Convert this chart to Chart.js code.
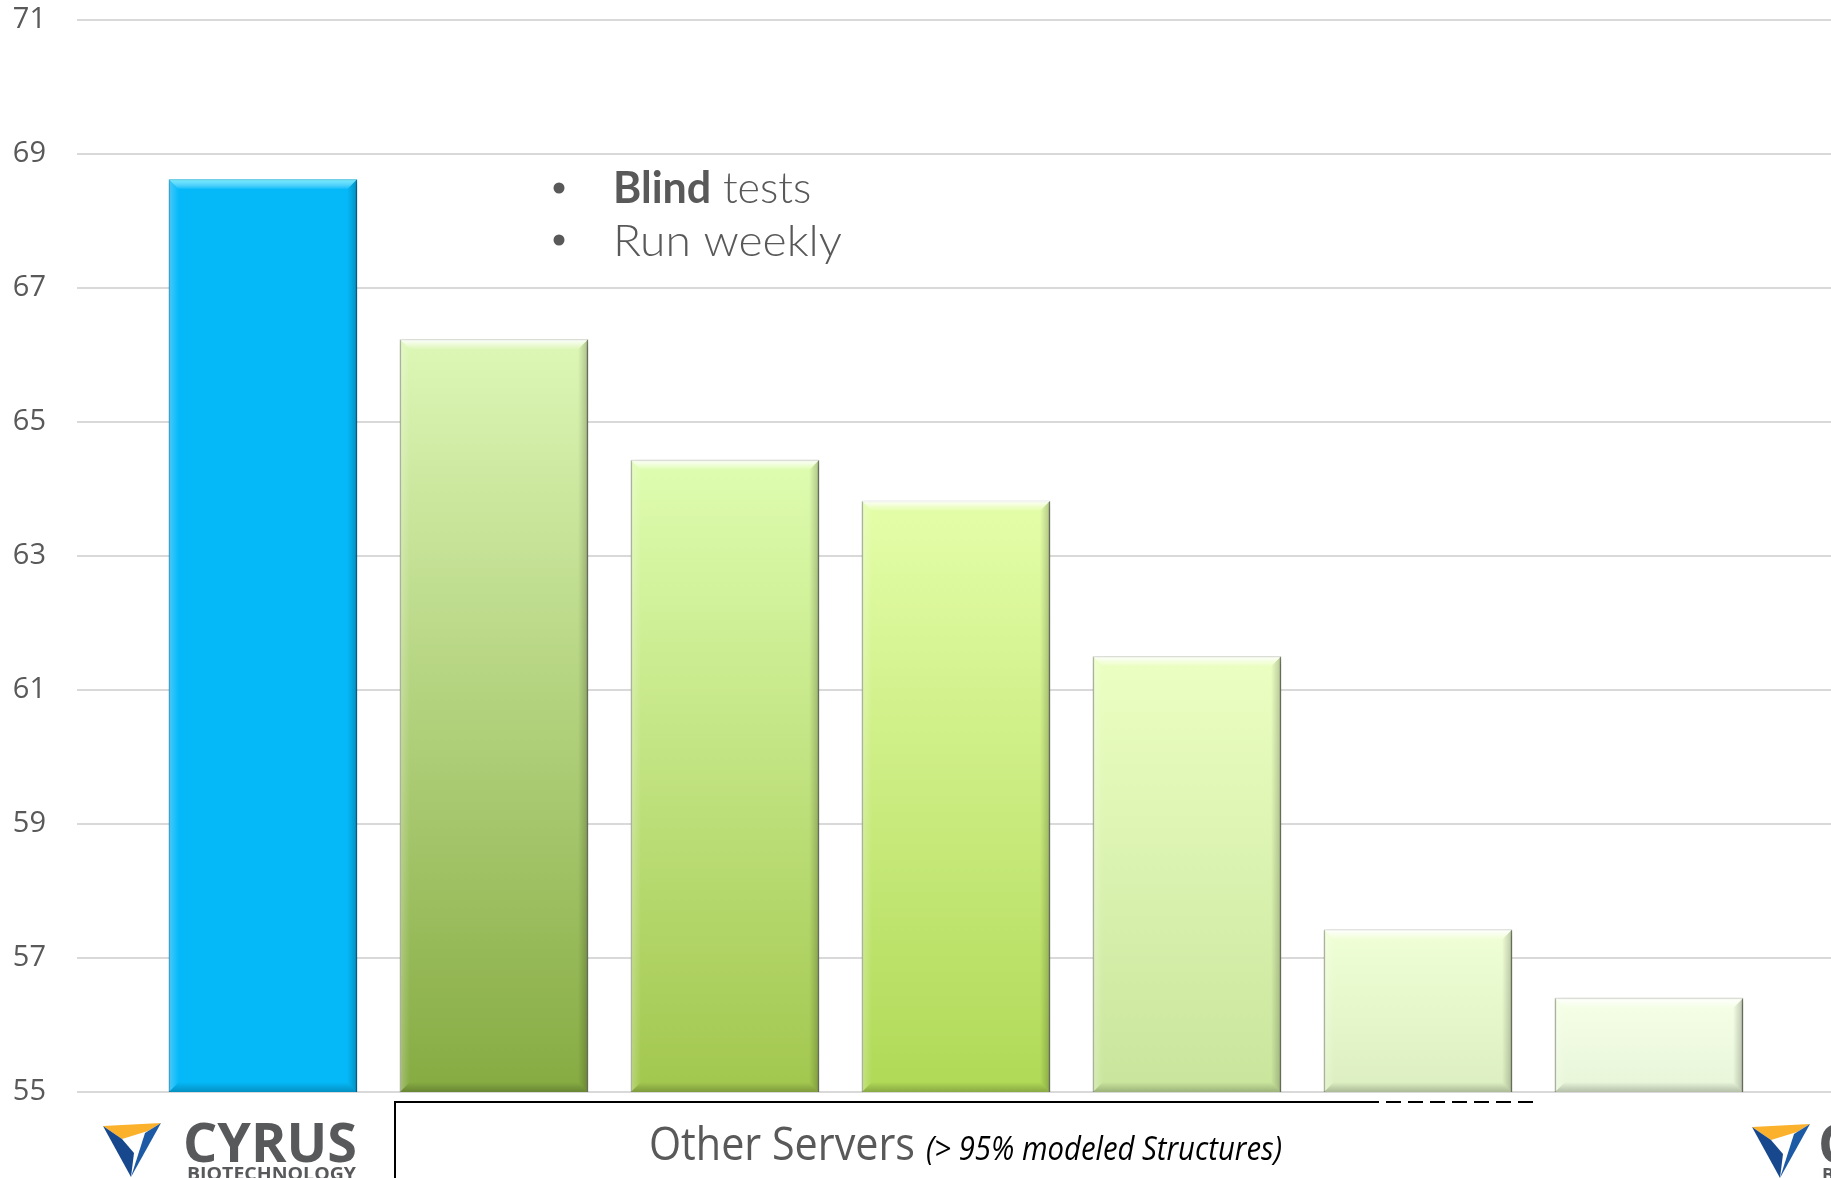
<!DOCTYPE html>
<html>
<head>
<meta charset="utf-8">
<script src="https://cdn.jsdelivr.net/npm/chart.js@4"></script>
<style>
  html, body { margin: 0; padding: 0; background: #fff; }
  #wrap { width: 1831px; height: 1178px; position: relative; overflow: hidden; }
</style>
</head>
<body>
<div id="wrap"><canvas id="chart"></canvas></div>
<script>
// ---- datos ----
const servers = ['Cyrus', 'Server 2', 'Server 3', 'Server 4', 'Server 5', 'Server 6', 'Server 7'];
const scores  = [68.62, 66.23, 64.43, 63.82, 61.50, 57.42, 56.40];
const yTicks  = [55, 57, 59, 61, 63, 65, 67, 69, 71];
const notes   = ['Blind tests', 'Run weekly'];

// colores (arriba / abajo del degradado)
const topCols = ['#05b9f9', '#ddf7b6', '#dffdb0', '#e4fea9', '#ebffc2', '#f0ffd6', '#f5ffe6'];
const botCols = ['#05b9f9', '#86ab42', '#a2c74e', '#b0d956', '#c9e59c', '#dcefc1', '#e8f5d9'];

function barFill(c) {
  const chart = c.chart, i = c.dataIndex;
  const area = chart.chartArea, ys = chart.scales.y;
  if (!area || !ys) return topCols[i];
  const top = ys.getPixelForValue(scores[i]);
  const g = chart.ctx.createLinearGradient(0, top, 0, area.bottom);
  g.addColorStop(0, topCols[i]);
  g.addColorStop(1, botCols[i]);
  return g;
}

// sombra + biseles de cada barra
const bevelPlugin = {
  id: 'bevel',
  beforeDatasetsDraw(chart) {
    const ctx = chart.ctx;
    ctx.save();
    ctx.shadowColor = 'rgba(0,0,0,0.28)';
    ctx.shadowBlur = 7;
    ctx.shadowOffsetX = 2;
    ctx.shadowOffsetY = 1;
  },
  afterDatasetsDraw(chart) {
    const ctx = chart.ctx;
    ctx.restore();
    const b = 10;
    const bottom = chart.chartArea.bottom;
    chart.getDatasetMeta(0).data.forEach((el, i) => {
      const l = el.x - el.width / 2, r = el.x + el.width / 2, t = el.y, bt = Math.min(el.base, bottom);
      ctx.save();
      // arriba (claro)
      let g = ctx.createLinearGradient(0, t, 0, t + b);
      g.addColorStop(0, i === 0 ? 'rgba(120,240,255,0.9)' : 'rgba(255,255,255,0.95)');
      g.addColorStop(1, 'rgba(255,255,255,0)');
      ctx.fillStyle = g;
      ctx.beginPath();
      ctx.moveTo(l, t); ctx.lineTo(r, t); ctx.lineTo(r - b, t + b); ctx.lineTo(l + b, t + b); ctx.closePath();
      ctx.fill();
      // abajo (oscuro)
      g = ctx.createLinearGradient(0, bt, 0, bt - b);
      g.addColorStop(0, 'rgba(0,0,0,0.22)');
      g.addColorStop(1, 'rgba(0,0,0,0)');
      ctx.fillStyle = g;
      ctx.beginPath();
      ctx.moveTo(l, bt); ctx.lineTo(r, bt); ctx.lineTo(r - b, bt - b); ctx.lineTo(l + b, bt - b); ctx.closePath();
      ctx.fill();
      // lados
      g = ctx.createLinearGradient(r, 0, r - b, 0);
      g.addColorStop(0, 'rgba(0,0,0,0.22)');
      g.addColorStop(1, 'rgba(0,0,0,0)');
      ctx.fillStyle = g;
      ctx.beginPath();
      ctx.moveTo(r, t); ctx.lineTo(r, bt); ctx.lineTo(r - b, bt - b); ctx.lineTo(r - b, t + b); ctx.closePath();
      ctx.fill();
      g = ctx.createLinearGradient(l, 0, l + b, 0);
      g.addColorStop(0, 'rgba(255,255,255,0.25)');
      g.addColorStop(1, 'rgba(255,255,255,0)');
      ctx.fillStyle = g;
      ctx.beginPath();
      ctx.moveTo(l, t); ctx.lineTo(l, bt); ctx.lineTo(l + b, bt - b); ctx.lineTo(l + b, t + b); ctx.closePath();
      ctx.fill();
      ctx.restore();
    });
  }
};

function drawLogo(ctx, x, y) {
  // x,y = esquina superior izquierda del icono (~58x54)
  ctx.save();
  ctx.fillStyle = '#fbb12b';
  ctx.beginPath();
  ctx.moveTo(x, y + 3); ctx.lineTo(x + 58, y); ctx.lineTo(x + 45, y + 8); ctx.lineTo(x + 19, y + 16); ctx.closePath();
  ctx.fill();
  ctx.fillStyle = '#17488e';
  ctx.beginPath();
  ctx.moveTo(x, y + 3); ctx.lineTo(x + 19, y + 16); ctx.lineTo(x + 31, y + 30); ctx.lineTo(x + 28, y + 54); ctx.closePath();
  ctx.fill();
  ctx.fillStyle = '#1d5aa6';
  ctx.beginPath();
  ctx.moveTo(x + 58, y); ctx.lineTo(x + 42, y + 10); ctx.lineTo(x + 35, y + 32); ctx.lineTo(x + 28, y + 54); ctx.closePath();
  ctx.fill();
  ctx.restore();
}

// texto estirado/comprimido a un ancho dado
function fitText(ctx, txt, x, y, w) {
  const m = ctx.measureText(txt).width;
  ctx.save();
  ctx.translate(x, y);
  ctx.scale(w / m, 1);
  ctx.fillText(txt, 0, 0);
  ctx.restore();
}

// textos, recuadro y logos
const annotPlugin = {
  id: 'annot',
  afterDraw(chart) {
    const ctx = chart.ctx;
    ctx.save();
    // viñetas
    ctx.fillStyle = '#595959';
    ctx.textBaseline = 'alphabetic';
    const lines = [[188, 203], [240, 256]];
    notes.forEach((n, i) => {
      ctx.beginPath();
      ctx.arc(559, lines[i][0], 5.5, 0, Math.PI * 2);
      ctx.fill();
    });
    ctx.font = 'bold 43px Lato';
    const w1 = ctx.measureText('Blind').width;
    ctx.fillText('Blind', 613, lines[0][1]);
    ctx.font = '300 43px Lato';
    ctx.fillText(notes[0].replace('Blind', ''), 613 + w1, lines[0][1]);
    fitText(ctx, notes[1], 613, lines[1][1], 229);

    // recuadro inferior
    ctx.strokeStyle = '#000';
    ctx.lineWidth = 2;
    ctx.beginPath();
    ctx.moveTo(395, 1178); ctx.lineTo(395, 1102); ctx.lineTo(1364, 1102);
    ctx.stroke();
    ctx.setLineDash([15, 7]);
    ctx.beginPath();
    ctx.moveTo(1364, 1102); ctx.lineTo(1534, 1102);
    ctx.stroke();
    ctx.setLineDash([]);

    ctx.fillStyle = '#595959';
    ctx.font = '46px "Open Sans"';
    fitText(ctx, 'Other Servers', 649, 1160, 266);
    ctx.fillStyle = '#000';
    ctx.font = 'italic 32px "Open Sans"';
    fitText(ctx, '(> 95% modeled Structures)', 926, 1160, 356);

    // logos
    drawLogo(ctx, 103, 1123);
    ctx.fillStyle = '#58595b';
    ctx.font = 'bold 54px "Open Sans"';
    fitText(ctx, 'CYRUS', 183, 1162, 174);
    ctx.font = 'bold 18px "Open Sans"';
    fitText(ctx, 'BIOTECHNOLOGY', 187, 1180, 169);
    drawLogo(ctx, 1752, 1124);
    ctx.font = 'bold 54px "Open Sans"';
    ctx.fillText('CYRUS', 1818, 1163);
    ctx.font = 'bold 18px "Open Sans"';
    ctx.fillText('BIOTECHNOLOGY', 1822, 1181);
    ctx.restore();
  }
};

new Chart(document.getElementById('chart'), {
  type: 'bar',
  data: {
    datasets: [{
      label: 'Score',
      data: scores.map((v, i) => ({ x: i, y: v })),
      backgroundColor: barFill,
      borderColor: (c) => c.dataIndex === 0 ? '#0a8cc0' : '#98a686',
      borderWidth: 1.5,
      borderSkipped: false,
      barThickness: 188
    }]
  },
  options: {
    responsive: true,
    maintainAspectRatio: false,
    animation: false,
    layout: { padding: { top: 20, right: 0, bottom: 86, left: 0 } },
    plugins: { legend: { display: false }, tooltip: { enabled: false } },
    scales: {
      x: { type: 'linear', offset: false, min: -0.805, max: 6.788, display: false },
      y: {
        min: 55, max: 71,
        afterBuildTicks: (s) => { s.ticks = yTicks.map(v => ({ value: v })); },
        afterFit: (s) => { s.width = 77; s.paddingTop = 0; s.paddingBottom = 0; },
        grid: { color: '#d9d9d9', lineWidth: 2, drawTicks: false },
        border: { display: false },
        ticks: { color: '#595959', font: { family: 'Open Sans', size: 29 }, padding: 31 }
      }
    }
  },
  plugins: [bevelPlugin, annotPlugin]
});
</script>
</body>
</html>
